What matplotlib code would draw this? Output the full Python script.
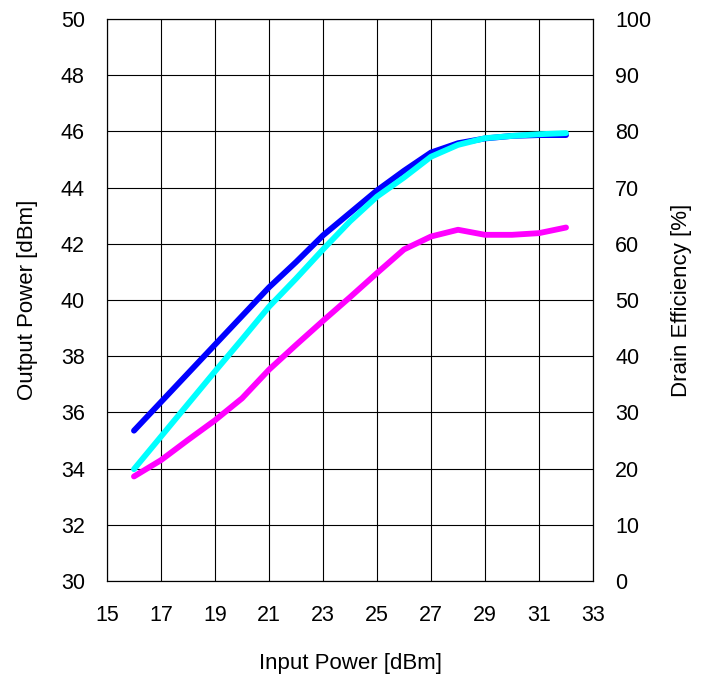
import matplotlib
matplotlib.use("Agg")
import matplotlib.pyplot as plt

plt.rcParams["font.family"] = ["Liberation Sans", "DejaVu Sans"]

# input power sweep [dBm]
pin = [16, 17, 18, 19, 20, 21, 22, 23, 24, 25, 26, 27, 28, 29, 30, 31, 32]

# output power [dBm]
pout = [35.35, 36.37, 37.39, 38.41, 39.43, 40.45, 41.35, 42.3, 43.1, 43.9,
        44.6, 45.25, 45.58, 45.75, 45.84, 45.87, 45.87]

# drain efficiency [%]
eff_a = [19.9, 25.7, 31.5, 37.3, 43.0, 48.8, 53.8, 59.0, 64.0, 68.4,
         71.8, 75.5, 77.6, 78.8, 79.2, 79.5, 79.7]
eff_b = [18.6, 21.5, 25.1, 28.6, 32.5, 37.6, 42.0, 46.3, 50.5, 54.8,
         59.0, 61.3, 62.5, 61.6, 61.6, 61.9, 62.9]

x_ticks = list(range(15, 34, 2))
left_ticks = list(range(30, 51, 2))
right_ticks = list(range(0, 101, 10))

fig = plt.figure(figsize=(7.07, 6.77), dpi=100, facecolor="white")
ax = fig.add_axes([0.1513, 0.1418, 0.6875, 0.8301])
ax2 = ax.twinx()

lw = 4.2
ax.plot(pin, pout, color="#0000ff", lw=lw, solid_capstyle="round",
        solid_joinstyle="round")
ax2.plot(pin, eff_b, color="#ff00ff", lw=lw, solid_capstyle="round",
         solid_joinstyle="round")
ax2.plot(pin, eff_a, color="#00ffff", lw=lw, solid_capstyle="round",
         solid_joinstyle="round")

ax.set_xlim(15, 33)
ax.set_ylim(30, 50)
ax2.set_ylim(0, 100)
ax.set_xticks(x_ticks)
ax.set_yticks(left_ticks)
ax2.set_yticks(right_ticks)

ax.grid(True, color="black", lw=0.8)
ax.set_axisbelow(True)
for a in (ax, ax2):
    for s in a.spines.values():
        s.set_color("black")
        s.set_linewidth(0.8)

ax.tick_params(axis="x", length=0, pad=17, labelsize=15.5)
ax.tick_params(axis="y", length=0, pad=16, labelsize=15.5)
ax2.tick_params(axis="y", length=0, pad=16, labelsize=15.5)

ax.set_xlabel("Input Power [dBm]", fontsize=16, labelpad=20)
ax.set_ylabel("Output Power [dBm]", fontsize=16, labelpad=16)
ax2.set_ylabel("Drain Efficiency [%]", fontsize=16, labelpad=14)

fig.savefig("out.png", dpi=100, facecolor="white")
